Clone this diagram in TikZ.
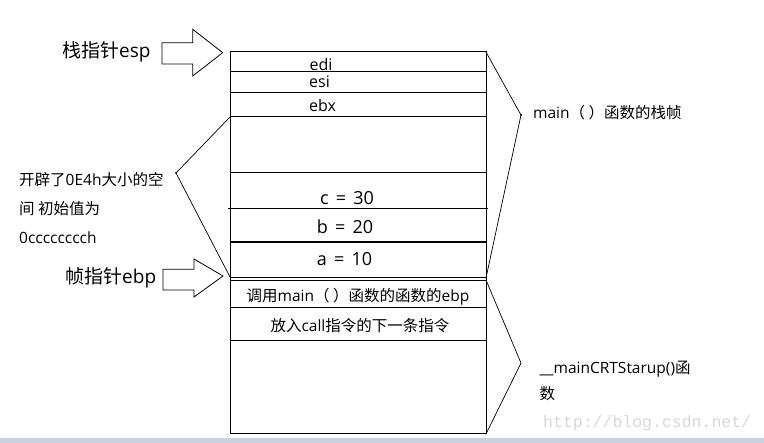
\documentclass[tikz,border=0pt]{standalone}
\usepackage{fontspec}
\setmainfont{Open Sans}
\newfontfamily\cjk{Noto Sans CJK SC}
\newfontfamily\monof{Liberation Mono}
\definecolor{wm}{RGB}{215,215,215}
\definecolor{barc}{RGB}{200,209,224}
\begin{document}
\begin{tikzpicture}[x=1pt,y=-1pt,
  stackline/.style={line width=1pt},
  thin/.style={line width=0.7pt},
  lbl/.style={inner sep=0pt,anchor=base},
  lbll/.style={inner sep=0pt,anchor=base west},
  blockarrow/.style={draw,line width=0.8pt,fill=white}]
\useasboundingbox (0,0) rectangle (764,443);
\fill[white] (0,0) rectangle (764,443);
\fill[barc] (0,438) rectangle (764,443);
% stack frame
\coordinate (tl) at (230,52);
\coordinate (tr) at (486,52);
\coordinate (bl) at (230,434);
\coordinate (br) at (486,434);
\draw[stackline] (tl) rectangle (br);
\draw[stackline] (230,71.5) -- (486,71.5);
\draw[stackline] (230,92.5) -- (486,92.5);
\draw[stackline] (230,116.5) -- (486,116.5);
\draw[stackline] (230,173) -- (486,173);
\draw[stackline] (228,209) -- (488,209);
\draw[line width=1.6pt] (230,242) -- (486,242);
\draw[line width=1.6pt] (230,277.5) -- (486,277.5);
\draw[stackline] (230,280.3) -- (486,280.3);
\draw[stackline] (230,308) -- (486,308);
\draw[stackline] (230,340.5) -- (486,340.5);
% stack texts
\node[lbl,font=\fontsize{16}{16}\selectfont] (edi) at (321,71) {edi};
\node[lbl,font=\fontsize{16}{16}\selectfont] (esi) at (319.5,88) {esi};
\node[lbl,font=\fontsize{16}{16}\selectfont] (ebx) at (322.5,111.5) {ebx};
\node[lbl,font=\fontsize{18}{18}\selectfont] (c) at (347,204.5) {c\hspace{0.4em}=\hspace{0.4em}30};
\node[lbl,font=\fontsize{18}{18}\selectfont] (b) at (345,233.5) {b\hspace{0.4em}=\hspace{0.4em}20};
\node[lbl,font=\fontsize{18}{18}\selectfont] (a) at (344.5,266) {a\hspace{0.4em}=\hspace{0.4em}10};
\node[lbl,font=\fontsize{15.5}{15.5}\selectfont] (callerebp) at (358,301.5) {{\cjk 调用}main{\cjk （ ）函数的函数的}ebp};
\node[lbl,font=\fontsize{15.5}{15.5}\selectfont] (retaddr) at (360,331.5) {{\cjk 放入}call{\cjk 指令的下一条指令}};
% esp arrow
\draw[blockarrow] (162,42.7) -- (192.7,42.7) -- (192.7,29.3) -- (222.7,52.7) -- (192.7,76) -- (192.7,64) -- (162,64) -- cycle;
\node[lbll,font=\fontsize{19}{19}\selectfont] (esp) at (62,57.5) {{\cjk 栈指针}esp};
% ebp arrow
\draw[blockarrow] (163,269.3) -- (194,269.3) -- (194,259) -- (223,276) -- (194,297) -- (194,290) -- (163,290) -- cycle;
\node[lbll,font=\fontsize{19}{19}\selectfont] (ebp) at (65,284) {{\cjk 帧指针}ebp};
% left bracket
\coordinate (lb) at (176,173);
\coordinate (lbt) at (230,117);
\coordinate (lbb) at (230,277);
\draw[thin] (lbt) -- (lb) -- (lbb);
\fill (lb) circle (1pt);
\node[lbll,font=\fontsize{15.5}{15.5}\selectfont] (space1) at (19,186) {{\cjk 开辟了}0E4h{\cjk 大小的空}};
\node[lbll,font=\fontsize{15.5}{15.5}\selectfont] (space2) at (19,215) {{\cjk 间 初始值为}};
\node[lbll,font=\fontsize{15.5}{15.5}\selectfont] (space3) at (19,243.3) {0cccccccch};
% right brackets
\coordinate (rb1) at (521,115);
\coordinate (rb1b) at (486,278);
\draw[thin] (tr) -- (rb1) -- (rb1b);
\fill (rb1) circle (1.2pt);
\node[lbll,font=\fontsize{15.5}{15.5}\selectfont] (mainframe) at (533,118.3) {main{\cjk （ ）函数的栈帧}};
\coordinate (rb2t) at (486,280);
\coordinate (rb2) at (521,363);
\draw[thin] (rb2t) -- (rb2) -- (br);
\node[lbll,font=\fontsize{15.5}{15.5}\selectfont] (crt1) at (539.5,373.3) {\_\_mainCRTStarup(){\cjk 函}};
\node[lbll,font=\fontsize{15.5}{15.5}\selectfont] (crt2) at (539.5,400) {{\cjk 数}};
% watermark
\node[lbll,font=\monof\fontsize{16.5}{16.5}\selectfont,text=wm] (wmk) at (543,428) {http://blog.csdn.net/};
\end{tikzpicture}
\end{document}
